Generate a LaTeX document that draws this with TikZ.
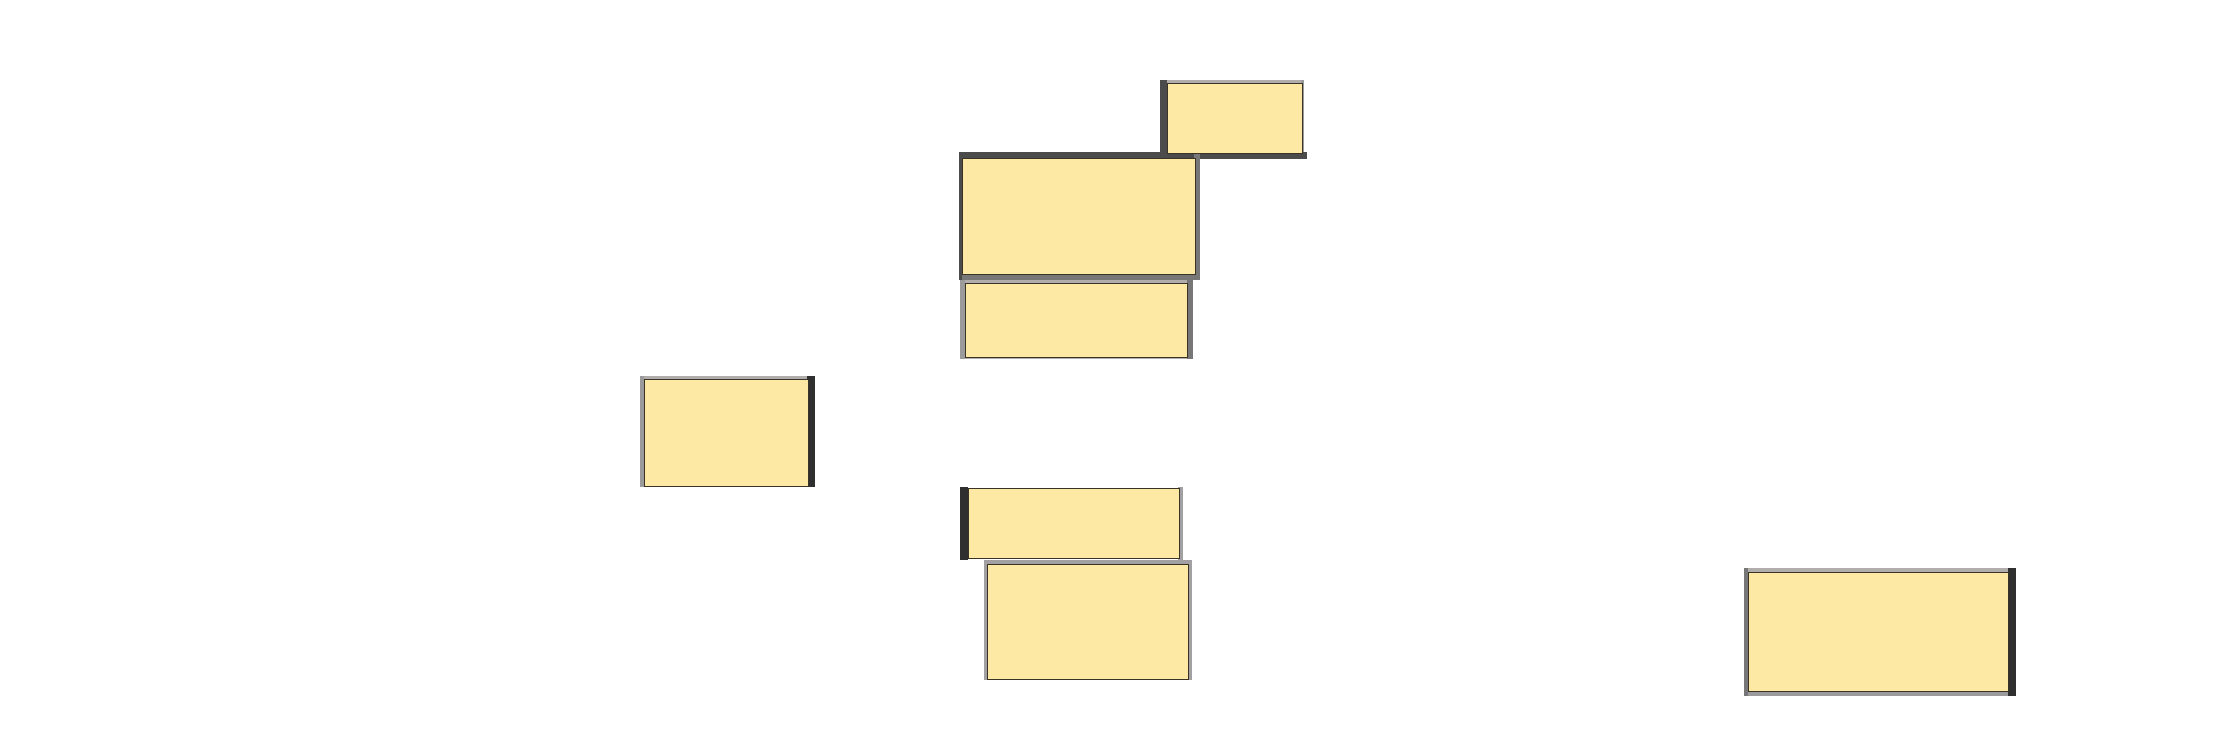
\documentclass[tikz,border=0pt]{standalone}
\definecolor{panelfill}{HTML}{FDE9A3}
\definecolor{paneledge}{HTML}{3A3426}
\definecolor{bdark}{HTML}{2F2F2F}
\definecolor{bdeep}{HTML}{4B4B4B}
\definecolor{bmid}{HTML}{777777}
\definecolor{bgray}{HTML}{9B9B9B}
\definecolor{blight}{HTML}{B2ADAD}
\definecolor{bpale}{HTML}{A3A0A3}
\tikzset{
  panel/.style={fill=panelfill, draw=paneledge, line width=1.4pt, inner sep=0pt, anchor=north west},
}
\begin{document}
\begin{tikzpicture}[x=1pt,y=-1pt]
\useasboundingbox (0,0) rectangle (2223,739);
% ---- bevel bands ----
% box 1
\fill[blight] (1160,80) rectangle (1304,84);
\fill[bgray] (1301,80) rectangle (1304,159);
\fill[bdeep] (1160,152) rectangle (1307,159);
\fill[bdeep] (1160,80) rectangle (1167,159);
% box 2
\fill[bdeep] (960,152) rectangle (1200,158);
\fill[bmid] (1194,152) rectangle (1200,280);
\fill[bmid] (960,273) rectangle (1200,280);
\fill[bdeep] (959,152) rectangle (962,280);
% box 3
\fill[blight] (960,280) rectangle (1193,284);
\fill[blight] (960,356) rectangle (1193,359);
\fill[bgray] (960,280) rectangle (965,359);
\fill[bmid] (1187,280) rectangle (1193,359);
% box 4
\fill[blight] (640,376) rectangle (815,379);
\fill[bgray] (640,376) rectangle (644,487);
\fill[bdark] (807,376) rectangle (815,487);
% box 5
\fill[bpale] (1178,487) rectangle (1183,560);
\fill[bdark] (960,487) rectangle (968,560);
% box 6
\fill[bpale] (984,560) rectangle (1192,564);
\fill[bpale] (984,560) rectangle (987,680);
\fill[bpale] (1188,560) rectangle (1192,680);
% box 7
\fill[blight] (1744,568) rectangle (2014,572);
\fill[bgray] (1744,690) rectangle (2014,696);
\fill[bmid] (1744,568) rectangle (1748,696);
\fill[bdark] (2008,568) rectangle (2016,696);
% ---- panels ----
\node[panel, minimum width=135, minimum height=70] (b1) at (1167,83) {};
\node[panel, minimum width=233, minimum height=116] (b2) at (962,158) {};
\node[panel, minimum width=222, minimum height=74] (b3) at (965,283) {};
\node[panel, minimum width=164, minimum height=107] (b4) at (644,379) {};
\node[panel, minimum width=211, minimum height=70] (b5) at (968,488) {};
\node[panel, minimum width=201, minimum height=115] (b6) at (987,564) {};
\node[panel, minimum width=260, minimum height=119] (b7) at (1748,572) {};
\end{tikzpicture}
\end{document}
